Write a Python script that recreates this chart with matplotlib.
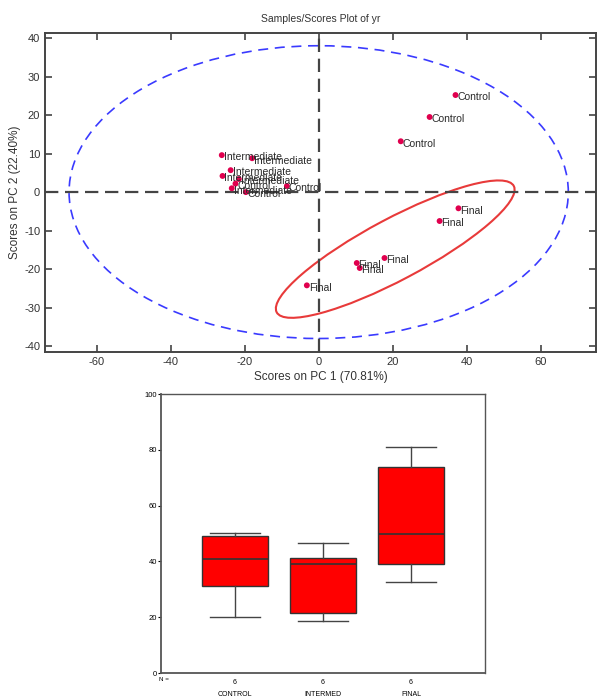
import numpy as np
import matplotlib
matplotlib.use('Agg')
import matplotlib.pyplot as plt
from matplotlib.patches import Ellipse

plt.rcParams['font.family'] = ['Liberation Sans', 'DejaVu Sans']
plt.rcParams['axes.unicode_minus'] = False

# PCA scores (PC1, PC2) per sample
control_pc1 = [37.0, 30.0, 22.2, -19.7, -8.6, -22.5]
control_pc2 = [25.2, 19.5, 13.2, 0.0, 1.6, 2.2]
interm_pc1 = [-26.2, -18.0, -23.8, -26.0, -21.6, -23.5]
interm_pc2 = [9.6, 8.8, 5.7, 4.2, 3.4, 1.0]
final_pc1 = [37.8, 32.7, 17.8, 10.3, 11.1, -3.2]
final_pc2 = [-4.2, -7.5, -17.1, -18.4, -19.7, -24.2]

# confidence ellipses: center x, center y, width, height, angle
t2_ellipse = (0, 0, 135, 76, 0)
final_ellipse = (20.7, -14.8, 72, 16, 27)

# boxplot summary
groups = ['CONTROL', 'INTERMED', 'FINAL']
n_per_group = [6, 6, 6]
whis_lo = [20.0, 18.6, 32.6]
q1 = [31.2, 21.4, 38.9]
median = [40.7, 38.9, 49.8]
q3 = [49.1, 41.4, 74.0]
whis_hi = [50.2, 46.7, 81.0]

fig = plt.figure(figsize=(5.97, 6.98), dpi=100)

# ---- top: scores plot
ax = fig.add_axes([0.0754, 0.4957, 0.923, 0.457])
ink = '#444444'
dot = '#e0004e'

ax.add_patch(Ellipse(t2_ellipse[:2], t2_ellipse[2], t2_ellipse[3], angle=t2_ellipse[4],
                     fill=False, ec='#3a3aff', ls=(0, (6, 4)), lw=1.2))
ax.add_patch(Ellipse(final_ellipse[:2], final_ellipse[2], final_ellipse[3], angle=final_ellipse[4],
                     fill=False, ec='#e83a3a', lw=1.5))
ax.axhline(0, color=ink, ls=(0, (6, 3)), lw=1.6, zorder=1)
ax.axvline(0, color=ink, ls=(0, (6, 3)), lw=1.6, zorder=1)

for xs, ys, name in [(control_pc1, control_pc2, 'Control'),
                     (interm_pc1, interm_pc2, 'Intermediate'),
                     (final_pc1, final_pc2, 'Final')]:
    ax.scatter(xs, ys, s=18, color=dot, zorder=3, edgecolors='none')
    for x, y in zip(xs, ys):
        ax.text(x + 0.5, y - 0.6, name, fontsize=7.5, color='#2a2a2a', va='center', ha='left', zorder=4)

ax.set_xlim(-74, 75)
ax.set_ylim(-41.5, 41.3)
ax.set_xticks([-60, -40, -20, 0, 20, 40, 60])
ax.set_yticks([-40, -30, -20, -10, 0, 10, 20, 30, 40])
ax.tick_params(direction='in', top=True, right=True, length=5, width=1.2, color=ink,
               labelsize=8, labelcolor='#333333')
for s in ax.spines.values():
    s.set_color(ink)
    s.set_linewidth(1.4)
ax.set_title('Samples/Scores Plot of yr', fontsize=7.5, color='#333333', pad=8)
ax.set_xlabel('Scores on PC 1 (70.81%)', fontsize=8.5, color='#333333', labelpad=3)
ax.set_ylabel('Scores on PC 2 (22.40%)', fontsize=8.5, color='#333333', labelpad=2)

# ---- bottom: boxplot
bx = fig.add_axes([0.2697, 0.0358, 0.5427, 0.3997])
stats = []
for i in range(len(groups)):
    stats.append({'med': median[i], 'q1': q1[i], 'q3': q3[i],
                  'whislo': whis_lo[i], 'whishi': whis_hi[i], 'label': str(n_per_group[i])})
bx.bxp(stats, positions=[1, 2, 3], widths=0.75, patch_artist=True, showfliers=False,
       boxprops=dict(facecolor='#ff0000', edgecolor='#333333', lw=1.0),
       medianprops=dict(color='#333333', lw=1.2),
       whiskerprops=dict(color='#444444', lw=1.0),
       capprops=dict(color='#444444', lw=1.0), capwidths=0.57)
bx.set_xlim(0.16, 3.84)
bx.set_ylim(0, 100)
bx.set_yticks([0, 20, 40, 60, 80, 100])
bx.tick_params(axis='y', direction='out', length=2, labelsize=5.5, pad=1)
bx.tick_params(axis='x', length=0, labelsize=5, pad=4)
for s in bx.spines.values():
    s.set_color('#555555')
    s.set_linewidth(1.0)
bx.spines['left'].set_linewidth(1.3)
bx.spines['bottom'].set_linewidth(1.3)
bx.text(-0.005, -0.014, 'N =', transform=bx.transAxes, fontsize=4.5, ha='left', va='top')
for i, g in enumerate(groups):
    bx.text(i + 1, -6.3, g, fontsize=5, ha='center', va='top', clip_on=False)

fig.savefig('out.png', dpi=100)
